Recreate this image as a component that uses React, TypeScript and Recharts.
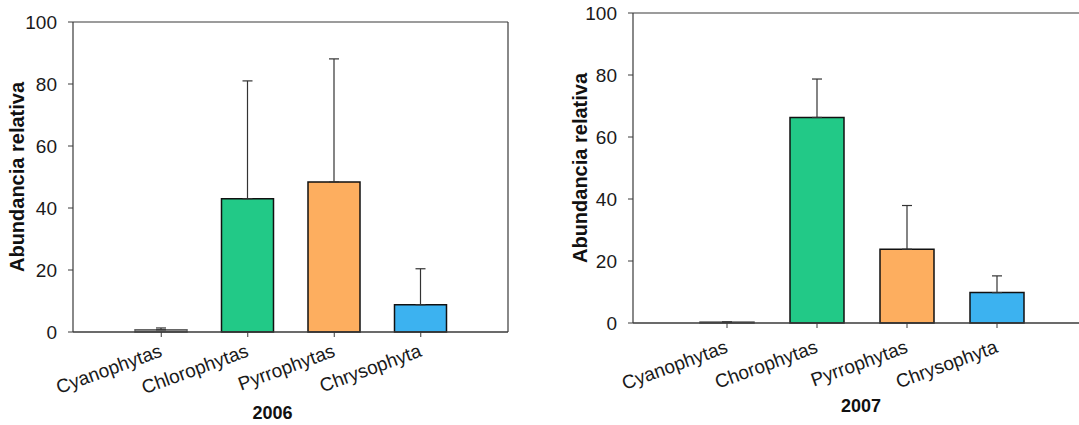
import { BarChart, Bar, XAxis, YAxis, ErrorBar, Cell, Label } from 'recharts';

const groups2006 = ['Cyanophytas', 'Chlorophytas', 'Pyrrophytas', 'Chrysophyta'];
const values2006 = [0.7, 43, 48.4, 8.8];
const errors2006 = [0.6, 38, 39.7, 11.6];

const groups2007 = ['Cyanophytas', 'Chorophytas', 'Pyrrophytas', 'Chrysophyta'];
const values2007 = [0.3, 66.3, 23.8, 9.8];
const errors2007 = [0, 12.4, 14.1, 5.4];

const barColors2006 = ['#a0a0a0', '#22c987', '#fdae5f', '#3cb2f0'];
const barColors2007 = ['#b0aa70', '#22c987', '#fdae5f', '#3cb2f0'];

const yTicks = [0, 20, 40, 60, 80, 100];

const FONT = '"Liberation Sans", Arial, sans-serif';
const AXIS = '#3a3a3a';

const toRows = (names: string[], vals: number[], errs: number[]) =>
  names.map((name, i) => ({ name, value: vals[i], err: [0, errs[i]] }));

const data2006 = toRows(groups2006, values2006, errors2006);
const data2007 = toRows(groups2007, values2007, errors2007);

const SlantTick = ({ x, y, payload, angle, drop }: any) => (
  <g transform={`translate(${x + 2},${y + drop})`}>
    <text
      textAnchor="end"
      transform={`rotate(${angle})`}
      fill="#1a1a1a"
      fontSize={19}
      fontFamily={FONT}
    >
      {payload.value}
    </text>
  </g>
);

const yTitle = (cx: number) => (props: any) => {
  const vb = props.viewBox;
  if (!vb) return null;
  const x = vb.x + cx;
  const y = vb.y + vb.height / 2;
  return (
    <text
      x={x}
      y={y}
      transform={`rotate(-90, ${x}, ${y})`}
      textAnchor="middle"
      dominantBaseline="central"
      fontSize={20}
      fontWeight="bold"
      fontFamily={FONT}
      fill="#111"
    >
      Abundancia relativa
    </text>
  );
};

const xTitle = (text: string, dx: number, dy: number) => (props: any) => {
  const vb = props.viewBox;
  if (!vb) return null;
  return (
    <text
      x={vb.x + vb.width / 2 + dx}
      y={vb.y + dy}
      textAnchor="middle"
      fontSize={18}
      fontWeight="bold"
      fontFamily={FONT}
      fill="#111"
    >
      {text}
    </text>
  );
};

type PanelProps = {
  data: { name: string; value: number; err: number[] }[];
  colors: string[];
  year: string;
  width: number;
  margin: { top: number; right: number; bottom: number; left: number };
  yAxisWidth: number;
  xAxisHeight: number;
  padding: { left: number; right: number };
  barSize: number;
  angle: number;
  drop: number;
  titleDx: number;
  titleDy: number;
  yTitleX: number;
  tickMargin: number;
};

const Panel = (p: PanelProps) => (
  <BarChart width={p.width} height={425} data={p.data} margin={p.margin}>
    <XAxis
      dataKey="name"
      height={p.xAxisHeight}
      padding={p.padding}
      axisLine={{ stroke: AXIS, strokeWidth: 1.5 }}
      tickLine={{ stroke: AXIS }}
      tickSize={5}
      interval={0}
      tick={<SlantTick angle={p.angle} drop={p.drop} />}
    >
      <Label content={xTitle(p.year, p.titleDx, p.titleDy)} />
    </XAxis>
    {/* frame: top and right edges */}
    <XAxis
      xAxisId="top"
      orientation="top"
      dataKey="name"
      height={1}
      tick={false}
      tickLine={false}
      axisLine={{ stroke: AXIS, strokeWidth: 1.2 }}
    />
    <YAxis
      domain={[0, 100]}
      ticks={yTicks}
      width={p.yAxisWidth}
      axisLine={{ stroke: AXIS, strokeWidth: 1.2 }}
      tickLine={{ stroke: AXIS }}
      tickSize={5}
      tickMargin={p.tickMargin}
      tick={{ fill: '#1a1a1a', fontSize: 19, fontFamily: FONT }}
    >
      <Label content={yTitle(p.yTitleX)} />
    </YAxis>
    <YAxis
      yAxisId="right"
      orientation="right"
      domain={[0, 100]}
      width={1}
      tick={false}
      tickLine={false}
      axisLine={{ stroke: AXIS, strokeWidth: 1.2 }}
    />
    <Bar dataKey="value" barSize={p.barSize} stroke="#111" strokeWidth={1.5} isAnimationActive={false}>
      {p.data.map((d, i) => (
        <Cell key={d.name} fill={p.colors[i]} stroke={i === 0 ? '#666' : '#111'} />
      ))}
      <ErrorBar dataKey="err" width={5} stroke="#333" strokeWidth={1.2} direction="y" />
    </Bar>
  </BarChart>
);

export default function App() {
  return (
    <div
      style={{
        position: 'relative',
        width: 1079,
        height: 425,
        overflow: 'hidden',
        background: '#fff',
      }}
    >
      <style>{'body{margin:0}'}</style>
      <div style={{ position: 'absolute', left: 0, top: 0 }}>
        <Panel
          data={data2006}
          colors={barColors2006}
          year="2006"
          width={540}
          margin={{ top: 21, right: 31, bottom: 0, left: 0 }}
          yAxisWidth={73}
          xAxisHeight={93}
          padding={{ left: 45, right: 44 }}
          barSize={52}
          angle={-20}
          drop={17}
          titleDx={-18}
          titleDy={87}
          yTitleX={17}
          tickMargin={11}
        />
      </div>
      <div style={{ position: 'absolute', left: 540, top: 0 }}>
        <Panel
          data={data2007}
          colors={barColors2007}
          year="2007"
          width={560}
          margin={{ top: 12, right: 16, bottom: 0, left: 0 }}
          yAxisWidth={93}
          xAxisHeight={102}
          padding={{ left: 49, right: 41 }}
          barSize={54}
          angle={-20}
          drop={22}
          titleDx={3}
          titleDy={89}
          yTitleX={40}
          tickMargin={11}
        />
      </div>
    </div>
  );
}
